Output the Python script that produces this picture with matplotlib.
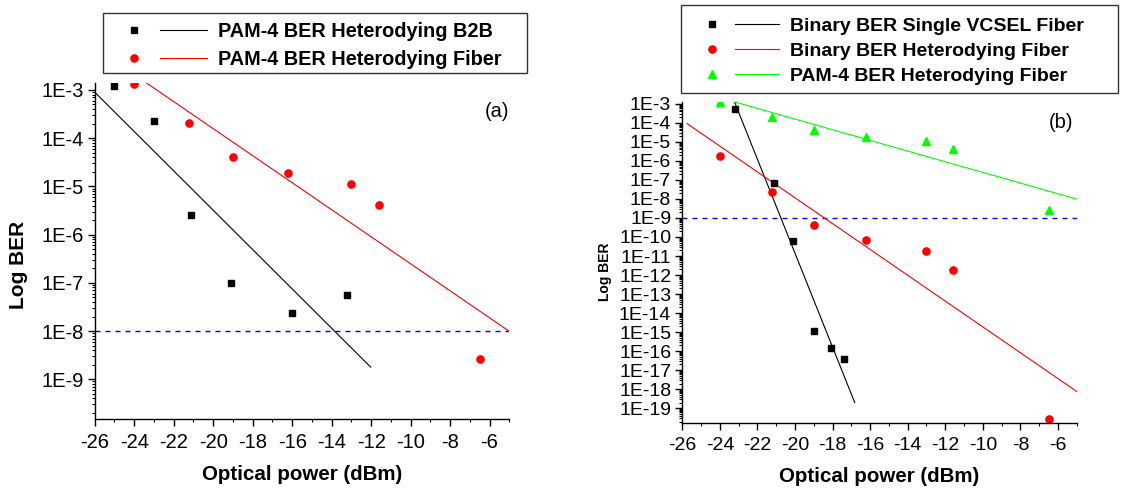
import numpy as np
import matplotlib
matplotlib.use('Agg')
import matplotlib.pyplot as plt
from matplotlib.lines import Line2D
from matplotlib.patches import Rectangle
from matplotlib.legend_handler import HandlerTuple
from matplotlib.ticker import LogLocator, MultipleLocator, FuncFormatter, NullFormatter

plt.rcParams['font.family'] = ['Liberation Sans', 'DejaVu Sans']

# received optical power (dBm) and measured BER
power_b2b = [-25, -23, -21.1, -19.1, -16, -13.2]
ber_pam4_b2b = [1.2e-3, 2.3e-4, 2.5e-6, 1.0e-7, 2.4e-8, 5.7e-8]

power_fiber = [-24, -21.2, -19, -16.2, -13, -11.6, -6.5]
ber_pam4_fiber = [1.3e-3, 2.1e-4, 4.0e-5, 1.9e-5, 1.1e-5, 4.2e-6, 2.6e-9]
ber_binary_fiber = [1.7e-6, 2.4e-8, 4.3e-10, 7.3e-11, 1.9e-11, 1.8e-12, 2.8e-20]

power_vcsel = [-23.2, -21.1, -20.1, -19, -18.1, -17.4]
ber_binary_vcsel = [5.3e-4, 6.6e-8, 6.0e-11, 1.2e-15, 1.4e-16, 4.0e-17]

fec_limit_a = 1e-8
fec_limit_b = 1e-9

RED = '#ff0000'
GREEN = '#00ff00'
BLUE = '#0000ff'
W, H = 1121, 488


def fit_line(x, y):
    # linear fit of log10(BER) vs power, extended 10% past the data
    x = np.asarray(x, dtype=float)
    k, b = np.polyfit(x, np.log10(y), 1)
    span = x.max() - x.min()
    xs = np.array([x.min() - 0.1 * span, x.max() + 0.1 * span])
    return xs, 10 ** (k * xs + b)


def style_axes(ax, ylim, fs):
    ax.set_yscale('log')
    ax.set_xlim(-26, -5)
    ax.set_ylim(*ylim)
    ax.spines['top'].set_visible(False)
    ax.spines['right'].set_visible(False)
    ax.spines['left'].set_linewidth(1.0)
    ax.spines['bottom'].set_linewidth(1.0)
    ax.xaxis.set_major_locator(MultipleLocator(2))
    ax.xaxis.set_minor_locator(MultipleLocator(1))
    ax.yaxis.set_major_locator(LogLocator(base=10, numticks=40))
    ax.yaxis.set_minor_locator(LogLocator(base=10, subs=np.arange(2, 10), numticks=40))
    ax.yaxis.set_major_formatter(FuncFormatter(lambda v, p: '1E%d' % round(np.log10(v))))
    ax.yaxis.set_minor_formatter(NullFormatter())
    ax.xaxis.set_major_formatter(FuncFormatter(lambda v, p: '%d' % round(v)))
    ax.tick_params(which='major', direction='out', length=5, width=1.0, labelsize=fs)
    ax.tick_params(axis='x', which='major', pad=5)
    ax.tick_params(axis='y', which='major', pad=3)
    ax.tick_params(which='minor', direction='out', length=2.5, width=0.8)
    ax.set_xlabel('Optical power (dBm)', fontsize=14.8, fontweight='bold', labelpad=9)


def legend_entry(marker, color, ms):
    return (Line2D([], [], ls='none', marker=marker, color=color, ms=ms),
            Line2D([], [], color=color, lw=0.8))


def add_legend(handles, labels, anchor, frame, size, spacing, hlen):
    # frame box in pixels: left, top, right, bottom
    x0, y0, x1, y1 = frame
    fig.add_artist(Rectangle((x0 / W, 1 - y1 / H), (x1 - x0) / W, (y1 - y0) / H,
                             transform=fig.transFigure, facecolor='white',
                             edgecolor='#333333', lw=1.0, zorder=4))
    leg = fig.legend(handles, labels,
                     handler_map={tuple: HandlerTuple(ndivide=2, pad=0.1)},
                     loc='upper left', bbox_to_anchor=(anchor[0] / W, 1 - anchor[1] / H),
                     prop={'size': size, 'weight': 'bold'}, handlelength=hlen,
                     handletextpad=0.55, borderpad=0.55, borderaxespad=0,
                     labelspacing=spacing, frameon=False)
    leg.set_zorder(5)
    return leg


fig = plt.figure(figsize=(W / 100, H / 100), dpi=100)
ax1 = fig.add_axes([0.0845, 0.1408, 0.3698, 0.6898])
ax2 = fig.add_axes([0.6087, 0.1326, 0.3518, 0.659])

# (a) PAM-4 heterodyning
ax1.axhline(fec_limit_a, color=BLUE, lw=1.0, dashes=(3.6, 3.6))
ax1.plot(*fit_line(power_b2b, ber_pam4_b2b), color='k', lw=0.8)
ax1.plot(*fit_line(power_fiber, ber_pam4_fiber), color=RED, lw=0.8)
ax1.plot(power_b2b, ber_pam4_b2b, ls='none', marker='s', color='k', ms=4.8)
ax1.plot(power_fiber, ber_pam4_fiber, ls='none', marker='o', color=RED, ms=5.2)
style_axes(ax1, (10 ** -9.83, 10 ** -2.85), 14.5)
ax1.set_ylabel('Log BER', fontsize=15, fontweight='bold')
ax1.yaxis.set_label_coords(-0.162, 0.459)
ax1.text(1.0, 0.914, '(a)', transform=ax1.transAxes, ha='right', va='center', fontsize=14.5)

add_legend([legend_entry('s', 'k', 4.8), legend_entry('o', RED, 5.2)],
           ['PAM-4 BER Heterodying B2B', 'PAM-4 BER Heterodying Fiber'],
           anchor=(99, 11), frame=(103, 13, 527, 73), size=14.3, spacing=0.45, hlen=4.9)

# (b) binary and PAM-4 after fiber
ax2.axhline(fec_limit_b, color=BLUE, lw=1.0, dashes=(3.6, 3.6))
ax2.plot(*fit_line(power_vcsel, ber_binary_vcsel), color='k', lw=0.8)
ax2.plot(*fit_line(power_fiber, ber_binary_fiber), color=RED, lw=0.8)
ax2.plot(*fit_line(power_fiber, ber_pam4_fiber), color=GREEN, lw=0.8)
ax2.plot(power_vcsel, ber_binary_vcsel, ls='none', marker='s', color='k', ms=4.8)
ax2.plot(power_fiber, ber_binary_fiber, ls='none', marker='o', color=RED, ms=5.2)
ax2.plot(power_fiber, ber_pam4_fiber, ls='none', marker='^', color=GREEN, ms=6)
style_axes(ax2, (10 ** -19.79, 10 ** -2.89), 14)
ax2.set_ylabel('Log BER', fontsize=10, fontweight='bold')
ax2.yaxis.set_label_coords(-0.179, 0.47)
ax2.text(0.99, 0.935, '(b)', transform=ax2.transAxes, ha='right', va='center', fontsize=14.5)

add_legend([legend_entry('s', 'k', 4.8), legend_entry('o', RED, 5.2),
            legend_entry('^', GREEN, 6)],
           ['Binary BER Single VCSEL Fiber', 'Binary BER Heterodying Fiber',
            'PAM-4 BER Heterodying Fiber'],
           anchor=(679, 7), frame=(681, 5, 1118, 92.7), size=14, spacing=0.36, hlen=4.6)

fig.savefig('out.png', dpi=100, facecolor='white')
